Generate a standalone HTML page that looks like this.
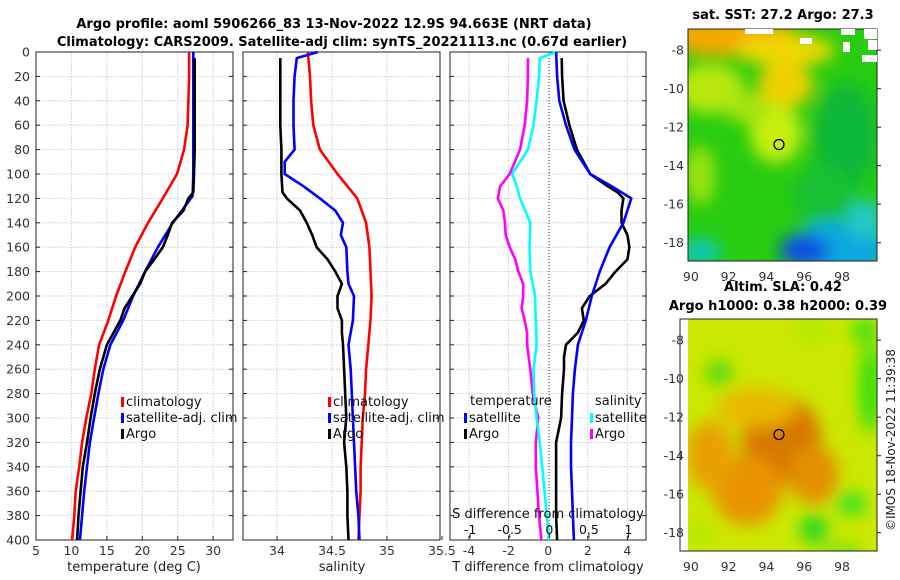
<!DOCTYPE html>
<html><head><meta charset="utf-8">
<style>
body{margin:0;background:#fff;}
svg{display:block;font-family:"DejaVu Sans","Liberation Sans",sans-serif;}
</style></head>
<body>
<svg id="fig" width="900" height="580" viewBox="0 0 900 580" xmlns="http://www.w3.org/2000/svg">
<defs>
<filter id="blur10" x="-40%" y="-40%" width="180%" height="180%"><feGaussianBlur stdDeviation="8"/></filter>
<clipPath id="clipSST"><rect x="688" y="29" width="189" height="232"/></clipPath>
<clipPath id="clipSLA"><rect x="688" y="319" width="189" height="232"/></clipPath>
</defs>
<text x="334" y="28" text-anchor="middle" font-size="13" font-weight="bold">Argo profile: aoml 5906266_83 13-Nov-2022 12.9S 94.663E (NRT data)</text>
<text x="342" y="46" text-anchor="middle" font-size="13" font-weight="bold">Climatology: CARS2009. Satellite-adj clim: synTS_20221113.nc (0.67d earlier)</text>
<g id="p1"></g>
<g id="p2"></g>
<g id="p3"></g>
<g id="maps"></g>
<text transform="translate(895,440) rotate(-90)" text-anchor="middle" font-size="12" fill="#222">©IMOS 18-Nov-2022 11:39:38</text>
</svg>
<script>
// ---- data ----
const depthTicks = [0,20,40,60,80,100,120,140,160,180,200,220,240,260,280,300,320,340,360,380,400];
const tTicks = [5,10,15,20,25,30];
const sTicks = [34,34.5,35,35.5];
const sTickLabels = ["34","34.5","35","35.5"];
const dtTicks = [-4,-2,0,2,4];
const dsTicks = [-1,-0.5,0,0.5,1];
const dsTickLabels = ["-1","-0.5","0","0.5","1"];

const tClimD = [0,20,40,60,80,100,120,140,160,180,200,220,240,260,280,300,320,340,360,380,400];
const tClim = [26.6,26.6,26.5,26.4,25.9,24.9,22.9,20.8,19.0,17.6,16.3,15.2,13.9,13.3,12.8,12.1,11.5,11.1,10.6,10.4,10.1];
const tSatD = [0,20,40,60,80,100,118,140,160,180,200,220,240,260,280,300,320,340,360,380,400];
const tSat = [27.2,27.2,27.2,27.2,27.2,27.2,27.1,24.3,22.2,20.4,18.7,17.3,15.5,14.5,13.8,13.2,12.6,12.2,11.8,11.5,11.2];
const tArgoD = [5,20,40,60,80,100,115,120,130,140,150,160,170,180,190,200,210,220,240,260,280,300,320,340,360,380,400];
const tArgo = [27.4,27.4,27.4,27.4,27.4,27.3,27.2,26.5,25.8,24.2,23.6,22.9,21.7,20.4,19.7,18.6,17.5,16.9,15.0,14.0,13.3,12.7,12.2,11.6,11.3,11.0,10.8];

const sClimD = [0,20,40,60,80,100,120,140,160,180,200,220,240,260,280,300,320,340,360,380,400];
const sClim = [34.28,34.30,34.31,34.33,34.39,34.55,34.73,34.81,34.84,34.85,34.86,34.85,34.83,34.81,34.80,34.78,34.77,34.76,34.76,34.75,34.74];
const sSatD = [0,5,20,40,60,80,90,100,110,120,130,140,150,160,180,190,200,220,240,260,280,300,320,340,360,380,400];
const sSat = [34.37,34.18,34.16,34.15,34.15,34.16,34.07,34.07,34.24,34.39,34.53,34.60,34.58,34.63,34.64,34.65,34.70,34.69,34.65,34.67,34.68,34.69,34.70,34.71,34.72,34.74,34.75];
const sArgoD = [5,20,40,60,80,100,115,120,130,140,150,160,170,180,190,200,210,220,230,240,260,280,300,320,340,360,380,400];
const sArgo = [34.03,34.03,34.03,34.03,34.04,34.04,34.05,34.09,34.21,34.27,34.32,34.36,34.46,34.53,34.59,34.55,34.55,34.59,34.59,34.60,34.61,34.62,34.63,34.61,34.63,34.64,34.64,34.65];

const dtSatD = [0,20,40,60,80,100,110,120,140,160,180,200,220,240,260,280,300,320,340,360,380,400];
const dtSat = [0.4,0.45,0.56,0.9,1.33,2.12,3.2,4.2,3.8,3.1,2.6,2.2,1.9,1.5,1.35,1.25,1.2,1.15,1.15,1.2,1.25,1.3];
const dtArgoD = [5,20,40,60,80,100,110,115,120,130,140,150,160,170,180,190,200,210,220,230,240,250,260,280,300,320,340,360,380,400];
const dtArgo = [0.68,0.7,0.78,1.07,1.45,2.12,3.0,3.5,3.8,3.7,3.7,4.0,4.1,4.0,3.4,2.9,2.1,1.7,1.8,1.5,0.9,0.8,0.8,0.7,0.65,0.4,0.4,0.4,0.4,0.45];
const dsSatD = [0,5,20,40,60,80,90,100,110,120,140,160,180,200,220,240,260,280,300,320,340,360,380,400];
const dsSat = [0.09,-0.12,-0.13,-0.16,-0.2,-0.27,-0.37,-0.47,-0.41,-0.37,-0.24,-0.25,-0.24,-0.18,-0.17,-0.16,-0.2,-0.19,-0.16,-0.12,-0.09,-0.06,-0.03,0];
const dsArgoD = [5,20,40,60,80,100,110,120,130,140,150,160,170,180,190,200,210,220,230,240,260,280,300,320,340,360,380,400];
const dsArgo = [-0.27,-0.27,-0.28,-0.31,-0.37,-0.5,-0.62,-0.65,-0.58,-0.56,-0.55,-0.5,-0.43,-0.39,-0.33,-0.33,-0.35,-0.31,-0.28,-0.28,-0.24,-0.21,-0.14,-0.17,-0.17,-0.15,-0.13,-0.1];

const mapLonTicks = [90,92,94,96,98];
const mapLatTicks = [-8,-10,-12,-14,-16,-18];
const argoLon = 94.663, argoLat = -12.9;

// ---- helpers ----
const NS = "http://www.w3.org/2000/svg";
function mk(tag, attrs, parent){const e=document.createElementNS(NS,tag);for(const k in attrs)e.setAttribute(k,attrs[k]);parent.appendChild(e);return e;}
const Y0=52, Y1=540;
const yD = d => Y0 + d*(Y1-Y0)/400;

function panel(g, x0, x1, xmin, xmax, ticks, labels){
  const xs = v => x0 + (v-xmin)*(x1-x0)/(xmax-xmin);
  ticks.forEach((t,i)=>{
    const x=xs(t);
    if(x>x0+1 && x<x1-1){
      const l=mk('line',{x1:x,x2:x,y1:Y0,y2:Y1,stroke:'#b8c0e0','stroke-width':0.8,'stroke-dasharray':'1.5,1.5'},g);
      
      
    }
    const tk=mk('line',{x1:x,x2:x,y1:Y1,y2:Y1-4,stroke:'#222'},g);
    
    
    const tx=mk('text',{x:x,y:Y1+15,'text-anchor':'middle','font-size':12.5,fill:'#333'},g);
    
    
    tx.textContent=labels?labels[i]:String(t);
  });
  depthTicks.forEach(d=>{
    const y=yD(d);
    if(d>0&&d<400){
      const l=mk('line',{x1:x0,x2:x1,y1:y,y2:y,stroke:'#b8c0e0','stroke-width':0.8,'stroke-dasharray':'1.5,1.5'},g);
      
      
    }
    const a=mk('line',{x1:x0,x2:x0+4,y1:y,y2:y,stroke:'#222'},g);
    
    
    const b=mk('line',{x1:x1,x2:x1-4,y1:y,y2:y,stroke:'#222'},g);
    
    
  });
  const r=mk('rect',{x:x0,y:Y0,width:x1-x0,height:Y1-Y0,fill:'none',stroke:'#222','stroke-width':1},g);
  
  
  return xs;
}
function line(g, xs, vals, depths, color, name){
  const pts = vals.map((v,i)=>xs(v).toFixed(1)+','+yD(depths[i]).toFixed(1)).join(' ');
  const p=mk('polyline',{points:pts,fill:'none',stroke:color,'stroke-width':2.6,'stroke-linejoin':'round'},g);
  
  
}
function legendEntry(g,x,y,color,label,name){
  const m=mk('rect',{x:x,y:y-9,width:3,height:10,fill:color},g);
  
  
  const t=mk('text',{x:x+5,y:y,'font-size':13,fill:'#111'},g);
  
  
  t.textContent=label;
}

// ---- panel 1 ----
const p1=document.getElementById('p1');
const xT=panel(p1,36,233,5,32.8,tTicks);
depthTicks.forEach(d=>{
  const t=mk('text',{x:30,y:yD(d)+4.5,'text-anchor':'end','font-size':12.5,fill:'#333'},p1);
  
  
  t.textContent=String(d);
});
line(p1,xT,tClim,tClimD,'#ff0000','temperature-climatology-line');
line(p1,xT,tSat,tSatD,'#0000ff','temperature-satellite-line');
line(p1,xT,tArgo,tArgoD,'#000000','temperature-argo-line');
legendEntry(p1,121,406,'#ff0000','climatology','legend-climatology');
legendEntry(p1,121,422,'#0000ff','satellite-adj. clim','legend-satellite');
legendEntry(p1,121,438,'#000000','Argo','legend-argo');
let t1=mk('text',{x:134,y:571,'text-anchor':'middle','font-size':13,fill:'#222'},p1);


t1.textContent='temperature (deg C)';

// ---- panel 2 ----
const p2=document.getElementById('p2');
const xS=panel(p2,243,440,33.691,35.482,sTicks,sTickLabels);
line(p2,xS,sClim,sClimD,'#ff0000','salinity-climatology-line');
line(p2,xS,sSat,sSatD,'#0000ff','salinity-satellite-line');
line(p2,xS,sArgo,sArgoD,'#000000','salinity-argo-line');
legendEntry(p2,328,406,'#ff0000','climatology','legend-climatology-s');
legendEntry(p2,328,422,'#0000ff','satellite-adj. clim','legend-satellite-s');
legendEntry(p2,328,438,'#000000','Argo','legend-argo-s');
let t2=mk('text',{x:342,y:571,'text-anchor':'middle','font-size':13,fill:'#222'},p2);


t2.textContent='salinity';

// ---- panel 3 ----
const p3=document.getElementById('p3');
const xDT=panel(p3,450,646,-4.96,4.94,dtTicks);
const xDS = v => 549.3 + v*79.2;
let z=mk('line',{x1:549.3,x2:549.3,y1:Y0,y2:Y1,stroke:'#555','stroke-width':1,'stroke-dasharray':'1,2'},p3);


line(p3,xDS,dsArgo,dsArgoD,'#ff00ff','salinity-diff-argo-line');
line(p3,xDS,dsSat,dsSatD,'#00ffff','salinity-diff-satellite-line');
line(p3,xDT,dtArgo,dtArgoD,'#000000','temperature-diff-argo-line');
line(p3,xDT,dtSat,dtSatD,'#0000ff','temperature-diff-satellite-line');
dsTicks.forEach((v,i)=>{
  const x=xDS(v);
  const tk=mk('line',{x1:x,x2:x,y1:Y1-2,y2:Y1-6,stroke:'#222'},p3);
  
  
  const t=mk('text',{x:x,y:534,'text-anchor':'middle','font-size':12.5,fill:'#111'},p3);
  
  
  t.textContent=dsTickLabels[i];
});
let st=mk('text',{x:548,y:518,'text-anchor':'middle','font-size':13,fill:'#111'},p3);


st.textContent='S difference from climatology';
let tt=mk('text',{x:548,y:571,'text-anchor':'middle','font-size':13,fill:'#222'},p3);


tt.textContent='T difference from climatology';
let lh1=mk('text',{x:470,y:405,'font-size':13,fill:'#111'},p3);


lh1.textContent='temperature';
let lh2=mk('text',{x:595,y:405,'font-size':13,fill:'#111'},p3);


lh2.textContent='salinity';
legendEntry(p3,464,422,'#0000ff','satellite','legend-t-satellite');
legendEntry(p3,464,438,'#000000','Argo','legend-t-argo');
legendEntry(p3,590,422,'#00ffff','satellite','legend-s-satellite');
legendEntry(p3,590,438,'#ff00ff','Argo','legend-s-argo');

// ---- maps ----
const maps=document.getElementById('maps');
const MX0=688, MX1=877;
const mLon = v => MX0 + (v-89.85)*(MX1-MX0)/10;
function mapFrame(y0, title1, title2, clipId, blobs, base, frameX, name){
  const g=mk('g',{},maps);
  
  
  const mLat = v => y0 + (-6.9 - v)*232/12.05;
  const c=mk('g',{'clip-path':'url(#'+clipId+')'},g);
  const bg=mk('rect',{x:MX0,y:y0,width:MX1-MX0,height:232,fill:base},c);
  
  
  const bl=mk('g',{filter:'url(#blur10)'},c);
  blobs.forEach(b=>{
    const e=mk('ellipse',{cx:mLon(b[0]),cy:mLat(b[1]),rx:b[2],ry:b[3],fill:b[4]},bl);
    
    
  });
  const fr=mk('rect',{x:frameX,y:y0,width:MX1-frameX,height:232,fill:'none',stroke:'#222'},g);
  
  
  const ci=mk('circle',{cx:mLon(argoLon),cy:mLat(argoLat),r:5,fill:'none',stroke:'#000','stroke-width':1.3},g);
  
  
  mapLatTicks.forEach(v=>{
    const y=mLat(v);
    const t=mk('text',{x:684,y:y+4.5,'text-anchor':'end','font-size':12.5,fill:'#333'},g);
    
    
    t.textContent=String(v);
    const tk=mk('line',{x1:MX1,x2:MX1+4,y1:y,y2:y,stroke:'#222'},g);
    
    
  });
  mapLonTicks.forEach(v=>{
    const x=mLon(v);
    const t=mk('text',{x:x,y:y0+252,'text-anchor':'middle','font-size':12.5,fill:'#333'},g);
    
    
    t.textContent=String(v);
  });
  if(title1){const t=mk('text',{x:783,y:y0-(title2?28:10),'text-anchor':'middle','font-size':13,'font-weight':'bold'},g);
    
    
    t.textContent=title1;}
  if(title2){const t=mk('text',{x:778,y:y0-9,'text-anchor':'middle','font-size':13,'font-weight':'bold'},g);
    
    
    t.textContent=title2;}
  return {g,mLat};
}
const sstBlobs=[
 [92,-7.3,70,20,'#f5a800'],[95,-8,50,16,'#f0d800'],[95,-9.8,28,22,'#f0d000'],
 [91,-10,35,25,'#b8e810'],[94.5,-12.3,26,30,'#c8ee10'],[93,-11,25,15,'#a8e410'],
 [90.5,-14.5,14,30,'#a0e410'],[98.2,-12.5,32,55,'#10b838'],[97,-15.5,30,30,'#18c030'],
 [97.8,-18.3,50,28,'#10a8e0'],[96,-18.4,25,16,'#1050e0'],[99.2,-16.8,18,20,'#20c8c8'],
 [90.5,-18.5,20,14,'#10c8b8']];
const m1=mapFrame(29,'sat. SST: 27.2 Argo: 27.3',null,'clipSST',sstBlobs,'#28cc10',688,'sst-map');
[[745,29,28,5],[841,29,14,6],[864,29,13,10],[868,40,9,10],[843,42,7,10],[862,55,15,7],[800,38,12,6]].forEach(w=>{
  const r=mk('rect',{x:w[0],y:w[1],width:w[2],height:w[3],fill:'#fff'},m1.g);
  
  
});
const slaBlobs=[
 [94.8,-13.2,40,45,'#d87800'],[93,-15.8,35,35,'#e89400'],[91,-14,24,35,'#e8a000'],
 [96.5,-15,25,30,'#e49000'],[93.5,-11.5,40,20,'#e8b800'],[91.5,-9.7,14,14,'#60dc10'],
 [99.5,-10.5,12,45,'#38e010'],[98.5,-16.5,16,12,'#40e020'],[96.5,-17.8,14,16,'#30d820'],
 [90.5,-18,10,8,'#a0e800'],[99.2,-7.5,14,14,'#50e010'],[96.5,-7.5,20,8,'#a8ec00'],[98,-19,20,8,'#70e010']];
mapFrame(319,'Altim. SLA: 0.42','Argo h1000: 0.38 h2000: 0.39','clipSLA',slaBlobs,'#cce800',680,'sla-map');
</script>
</body></html>
